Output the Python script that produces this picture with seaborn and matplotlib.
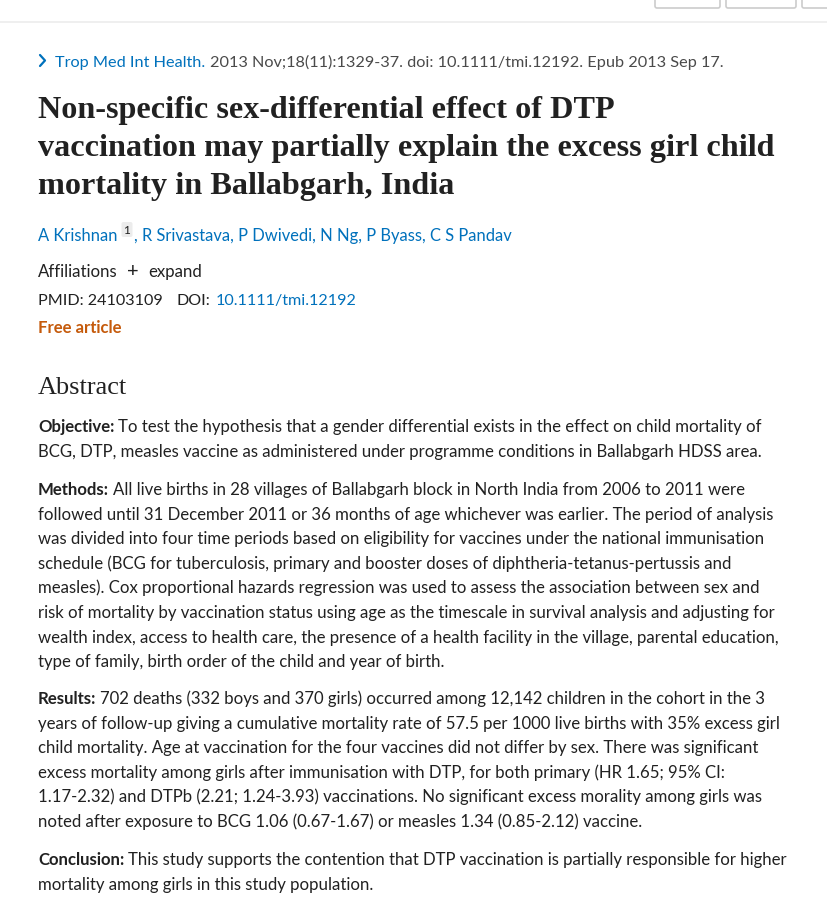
import matplotlib
matplotlib.use("Agg")
import matplotlib.pyplot as plt
from matplotlib.patches import FancyBboxPatch
import seaborn as sns

# page text, line by line as wrapped in the reference
journal = "Trop Med Int Health."
citation = "2013 Nov;18(11):1329-37. doi: 10.1111/tmi.12192. Epub 2013 Sep 17."
title_lines = [
    "Non-specific sex-differential effect of DTP",
    "vaccination may partially explain the excess girl child",
    "mortality in Ballabgarh, India",
]
first_author = "A Krishnan"
other_authors = ", R Srivastava, P Dwivedi, N Ng, P Byass, C S Pandav"
pmid = "PMID: 24103109"
doi = "10.1111/tmi.12192"
sections = ["Objective:", "Methods:", "Results:", "Conclusion:"]
section_lines = [
    ["To test the hypothesis that a gender differential exists in the effect on child mortality of",
     "BCG, DTP, measles vaccine as administered under programme conditions in Ballabgarh HDSS area."],
    ["All live births in 28 villages of Ballabgarh block in North India from 2006 to 2011 were",
     "followed until 31 December 2011 or 36 months of age whichever was earlier. The period of analysis",
     "was divided into four time periods based on eligibility for vaccines under the national immunisation",
     "schedule (BCG for tuberculosis, primary and booster doses of diphtheria-tetanus-pertussis and",
     "measles). Cox proportional hazards regression was used to assess the association between sex and",
     "risk of mortality by vaccination status using age as the timescale in survival analysis and adjusting for",
     "wealth index, access to health care, the presence of a health facility in the village, parental education,",
     "type of family, birth order of the child and year of birth."],
    ["702 deaths (332 boys and 370 girls) occurred among 12,142 children in the cohort in the 3",
     "years of follow-up giving a cumulative mortality rate of 57.5 per 1000 live births with 35% excess girl",
     "child mortality. Age at vaccination for the four vaccines did not differ by sex. There was significant",
     "excess mortality among girls after immunisation with DTP, for both primary (HR 1.65; 95% CI:",
     "1.17-2.32) and DTPb (2.21; 1.24-3.93) vaccinations. No significant excess morality among girls was",
     "noted after exposure to BCG 1.06 (0.67-1.67) or measles 1.34 (0.85-2.12) vaccine."],
    ["This study supports the contention that DTP vaccination is partially responsible for higher",
     "mortality among girls in this study population."],
]
section_top = [432, 495, 704, 865]

TXT = "#212121"
LINK = "#0071bc"
GREY = "#4a4a4a"
ORANGE = "#c55a0b"
BODY = "Lato"
SERIF = "Liberation Serif"

sns.set_theme(style="white")
fig = plt.figure(figsize=(8.27, 9.0), dpi=100)
ax = fig.add_axes([0, 0, 1, 1])
ax.set_xlim(0, 827)
ax.set_ylim(900, 0)
ax.axis("off")
fig.canvas.draw()
rend = fig.canvas.get_renderer()


def width(t):
    return t.get_window_extent(rend).width


def fit(s, target, **kw):
    t = ax.text(0, 0, s, fontsize=10, **kw)
    w = width(t)
    t.remove()
    return 10 * target / w


def seg(x, y, s, **kw):
    t = ax.text(x, y, s, va="baseline", **kw)
    return x + width(t)


fs = fit(section_lines[1][1], 735, family=BODY)
ts = fit(title_lines[1], 740, family=SERIF, weight="bold")
hs = fit("Abstract", 89, family=SERIF)
# header rows: halfway between body size and a size fitted to the reference widths
js = (fs + fit(journal + " " + citation, 650, family=BODY)) / 2
aus = (fs + fit(first_author + other_authors, 450, family=BODY)) / 2
ps = (fs + fit(pmid + "   DOI: " + doi, 305, family=BODY)) / 2

# header strip
ax.axhline(22, color="#ececec", lw=1.2)
for x0, x1 in [(655, 720), (726, 796), (802, 840)]:
    ax.add_patch(FancyBboxPatch((x0, -10), x1 - x0, 18, boxstyle="round,pad=0,rounding_size=2",
                                fc="white", ec="#cccccc", lw=1.2))

# journal line
ax.plot([40, 45, 40], [55, 60.5, 66], color=LINK, lw=1.6, solid_capstyle="round")
x = seg(55, 67, journal, family=BODY, fontsize=js, color=LINK)
seg(x + 5, 67, citation, family=BODY, fontsize=js, color=GREY)

for i, line in enumerate(title_lines):
    seg(38, 118 + 38 * i, line, family=SERIF, weight="bold", fontsize=ts, color=TXT)

# authors
x = seg(38, 241, first_author, family=BODY, fontsize=aus, color=LINK)
ax.add_patch(FancyBboxPatch((x + 4, 222), 11, 15, boxstyle="round,pad=0,rounding_size=2",
                            fc="#ececec", ec="none"))
seg(x + 6, 234, "1", family=BODY, fontsize=aus * 0.72, color=TXT)
seg(x + 16, 241, other_authors, family=BODY, fontsize=aus, color=LINK)

x = seg(38, 277, "Affiliations", family=BODY, fontsize=fs, color=TXT)
seg(x + 9, 277, "+", family=BODY, fontsize=fs * 1.2, color=TXT)
seg(x + 31, 277, "expand", family=BODY, fontsize=fs, color=TXT)

x = seg(38, 305, pmid, family=BODY, fontsize=ps, color=TXT)
x = seg(x + 14, 305, "DOI:", family=BODY, fontsize=ps, color=TXT)
seg(x + 5, 305, doi, family=BODY, fontsize=ps, color=LINK)
seg(38, 333, "Free article", family=BODY, weight="bold", fontsize=fs, color=ORANGE)

seg(38, 394, "Abstract", family=SERIF, fontsize=hs, color=TXT)

for label, lines, y0 in zip(sections, section_lines, section_top):
    for k, line in enumerate(lines):
        y = y0 + 24.6 * k
        x = 38
        if k == 0:
            x = seg(x, y, label, family=BODY, weight="bold", fontsize=fs, color=TXT) + 4
        seg(x, y, line, family=BODY, fontsize=fs, color=TXT)

fig.savefig("out.png", dpi=100)
